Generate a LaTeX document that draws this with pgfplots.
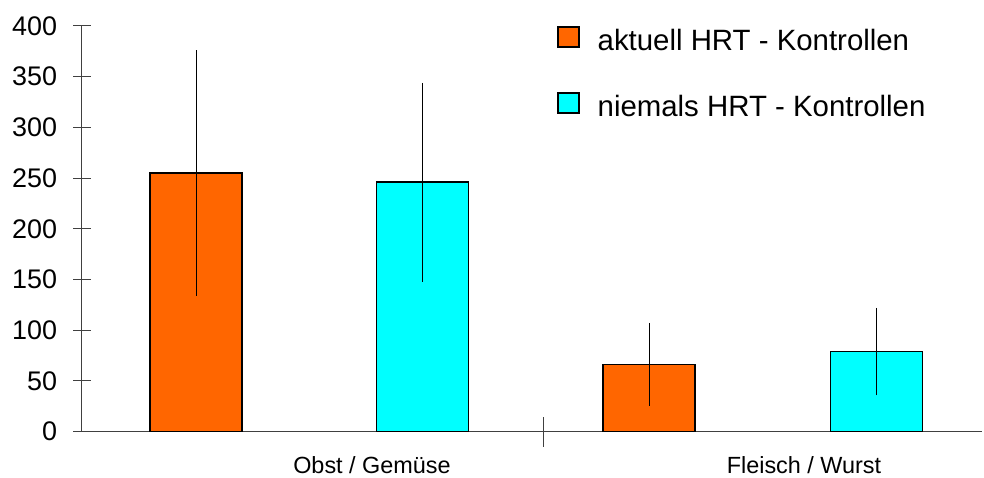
\documentclass[border=0pt]{standalone}
\usepackage{pgfplots}
\pgfplotsset{compat=1.18}
\usepackage{fontspec}
\setmainfont{Liberation Sans}
\definecolor{orng}{HTML}{FF6600}
\definecolor{cyn}{HTML}{00FFFF}
\definecolor{axgray}{HTML}{404040}
\begin{document}
\begin{tikzpicture}
\begin{axis}[
  scale only axis, width=900bp, height=405.7bp,
  xmin=82, xmax=982, ymin=0, ymax=400,
  axis x line*=bottom, axis y line*=left,
  axis line style={line width=1bp, axgray},
  every tick/.style={line width=1bp, axgray},
  tick align=center, major tick length=17bp,
  ytick={0,50,...,400},
  /pgf/number format/assume math mode=true,
  yticklabel style={font=\fontsize{27}{27}\selectfont, anchor=east, xshift=-13bp},
  xtick={372,804}, xticklabels={Obst / Gemüse, Fleisch / Wurst},
  xtick style={draw=none},
  xticklabel style={font=\fontsize{23.5}{23.5}\selectfont, anchor=base, yshift=-25bp},
  extra x ticks={543}, extra x tick labels={},
  extra x tick style={major tick length=30bp, tick align=center, every x tick/.style={draw=axgray, line width=1bp}},
  ybar, bar width=92, bar shift=0pt,
  legend style={at={(axis cs:554,402)}, anchor=north west, draw=none, fill=none,
    font=\fontsize{29.5}{29.5}\selectfont, row sep=38bp, legend cell align=left,
    /tikz/every odd column/.append style={column sep=16bp}},
  clip=false,
]
\coordinate (sw) at (rel axis cs:0,0);
\coordinate (ne) at (rel axis cs:1,1);
\addplot[fill=orng, draw=black, line width=1.5bp,
  legend image code/.code={\draw[fill=orng, draw=black, line width=1.5bp] (0bp,-6bp) rectangle (21bp,14bp);},
  error bars/.cd, y dir=both, y explicit, error mark=none,
  error bar style={line width=1bp, black}]
  coordinates {(196,255) +- (0,121) (649,66.5) +- (0,40.7)};
\addlegendentry{aktuell HRT - Kontrollen}
\addplot[fill=cyn, draw=black, line width=1.5bp,
  legend image code/.code={\draw[fill=cyn, draw=black, line width=1.5bp] (0bp,-6bp) rectangle (21bp,14bp);},
  error bars/.cd, y dir=both, y explicit, error mark=none,
  error bar style={line width=1bp, black}]
  coordinates {(422.5,246) +- (0,98) (876.5,79) +- (0,43.2)};
\addlegendentry{niemals HRT - Kontrollen}
\end{axis}
\pgfresetboundingbox
\path ([shift={(-82bp,-45.3bp)}]sw) rectangle ([shift={(2bp,26bp)}]ne);
\end{tikzpicture}
\end{document}
